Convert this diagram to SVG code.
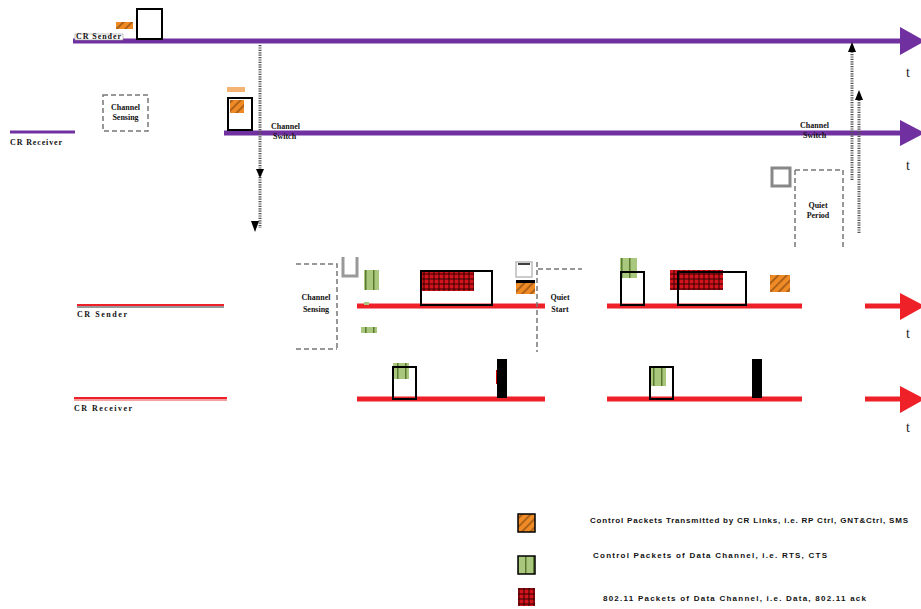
<svg xmlns="http://www.w3.org/2000/svg" width="921" height="609" viewBox="0 0 921 609">
<style>
.lbl{font-family:"Liberation Serif",serif;font-size:8px;fill:#111;font-weight:bold}
.t{font-family:"Liberation Serif",serif;font-size:14px;fill:#222}
.leg{font-family:"Liberation Sans",sans-serif;font-size:8px;fill:#111;font-weight:bold}
.pl{stroke:#7030a0;stroke-width:5;fill:none}
.rl{stroke:#ee2028;stroke-width:5;fill:none}
.box{fill:none;stroke:#000;stroke-width:2}
.dash{fill:none;stroke:#777;stroke-width:1.5;stroke-dasharray:5,3}
.dot{fill:none;stroke:#555;stroke-width:3;stroke-dasharray:1.2,1.2}
.or{fill:url(#hatch)}
.gr{fill:url(#grn)}
.rd{fill:url(#chk)}
</style>
<defs>
<pattern id="hatch" patternUnits="userSpaceOnUse" width="6" height="6" patternTransform="rotate(-45)">
<rect width="6" height="6" fill="#f08a24"/>
<line x1="0" y1="1" x2="6" y2="1" stroke="#6a3a10" stroke-width="1"/>
</pattern>
<pattern id="grn" patternUnits="userSpaceOnUse" width="8" height="8">
<rect width="8" height="8" fill="#a9c77d"/>
<rect x="5" width="1.5" height="8" fill="#5a7a30"/>
</pattern>
<pattern id="chk" patternUnits="userSpaceOnUse" width="5" height="5">
<rect width="5" height="5" fill="#d4141c"/>
<rect x="3.5" width="1" height="5" fill="#300"/>
<rect y="3.5" width="5" height="1" fill="#300"/>
</pattern>
</defs>

<g id="connectors">
<line class="pl" x1="73" y1="41" x2="902" y2="41"/>
<polygon points="900,27 925,41 900,55" fill="#7030a0"/>
<line stroke="#7030a0" stroke-width="3" x1="10" y1="132" x2="75" y2="132"/>
<line class="pl" x1="224" y1="133" x2="902" y2="133"/>
<polygon points="900,120 925,133 900,146" fill="#7030a0"/>
<line stroke="#999" stroke-width="2" x1="77" y1="307" x2="224" y2="307"/>
<line stroke="#ee2028" stroke-width="2" x1="77" y1="305" x2="224" y2="305"/>
<line class="rl" x1="357" y1="306" x2="545" y2="306"/>
<line class="rl" x1="607" y1="306" x2="802" y2="306"/>
<line class="rl" x1="865" y1="306" x2="902" y2="306"/>
<polygon points="900,293 925,306 900,320" fill="#ee2028"/>
<line stroke="#f5a0a0" stroke-width="2" x1="74" y1="400" x2="227" y2="400"/>
<line stroke="#ee2028" stroke-width="2" x1="74" y1="398" x2="227" y2="398"/>
<line class="rl" x1="357" y1="399" x2="545" y2="399"/>
<line class="rl" x1="607" y1="399" x2="802" y2="399"/>
<line class="rl" x1="865" y1="399" x2="902" y2="399"/>
<polygon points="900,386 925,399 900,413" fill="#ee2028"/>
<line class="dot" x1="260" y1="45" x2="260" y2="228"/>
<polygon points="256,169 264,169 260,178" fill="#000"/>
<polygon points="251,221 259,221 255,232" fill="#000"/>
<line class="dot" x1="852" y1="180" x2="852" y2="50"/>
<polygon points="848,52 856,52 852,42" fill="#000"/>
<line class="dot" x1="859" y1="233" x2="859" y2="98"/>
<polygon points="855,100 863,100 859,90" fill="#000"/>
<line class="dash" x1="537" y1="262" x2="537" y2="352" stroke="#666" stroke-width="2"/>
<line class="dash" x1="538" y1="269" x2="582" y2="269" stroke="#bbb"/>
</g>

<g id="t-labels">
<text class="t" x="906" y="77">t</text>
<text class="t" x="906" y="170">t</text>
<text class="t" x="906" y="338">t</text>
<text class="t" x="906" y="432">t</text>
</g>

<g id="cr-sender-top">
<rect x="75" y="34" width="48" height="6" fill="#fff" stroke="#999" stroke-width="0.6"/>
<text class="lbl" x="76" y="39" font-size="6" textLength="45">CR Sender</text>
<rect x="116" y="22" width="17" height="7" class="or"/>
<rect x="137" y="9" width="25" height="30" class="box"/>
</g>

<g id="cr-receiver-top">
<text class="lbl" x="10" y="145" font-size="9" textLength="52">CR Receiver</text>
</g>

<g id="channel-sensing-1">
<rect x="103" y="95" width="45" height="36" class="dash" stroke="#333"/>
<text class="lbl" x="125.5" y="110" text-anchor="middle">Channel</text>
<text class="lbl" x="125.5" y="120" text-anchor="middle">Sensing</text>
</g>

<g id="switch-box">
<rect x="227" y="87" width="18" height="5" fill="#f2a050" opacity="0.8"/>
<rect x="228" y="98" width="24" height="32" class="box"/>
<rect x="230" y="100" width="14" height="13" class="or"/>
</g>

<g id="channel-switch-1">
<text class="lbl" x="271" y="129" fill="#444">Channel</text>
<text class="lbl" x="273" y="139" fill="#444">Switch</text>
</g>

<g id="channel-switch-2">
<text class="lbl" x="800" y="128">Channel</text>
<text class="lbl" x="803" y="138">Switch</text>
</g>

<g id="quiet-period">
<rect x="772" y="168" width="18" height="18" fill="none" stroke="#888" stroke-width="3"/>
<path d="M795,170 H843 V248 M795,170 V248" class="dash" stroke="#888"/>
<text class="lbl" x="818" y="208" text-anchor="middle">Quiet</text>
<text class="lbl" x="818" y="218" text-anchor="middle">Period</text>
</g>

<g id="cr-sender-bottom">
<text class="lbl" x="77" y="317" font-size="9" textLength="50">CR Sender</text>
</g>
<g id="cr-receiver-bottom">
<text class="lbl" x="74" y="411" font-size="9" textLength="58">CR Receiver</text>
</g>

<g id="channel-sensing-2">
<path d="M296,264 H337 V350 M296,349 H337" class="dash" stroke="#777"/>
<text class="lbl" x="316" y="300" text-anchor="middle" fill="#444">Channel</text>
<text class="lbl" x="316" y="312" text-anchor="middle" fill="#444">Sensing</text>
<path d="M343,257 V276 H357 V257" fill="none" stroke="#999" stroke-width="3"/>
</g>

<g id="sender-seg1">
<rect x="364" y="270" width="15" height="20" class="gr"/>
<rect x="364" y="302" width="5" height="3" fill="#a9c77d"/>
<rect x="361" y="327" width="16" height="6" class="gr"/>
<rect x="421" y="270" width="53" height="21" class="rd"/>
<rect x="421" y="271" width="71" height="34" class="box" stroke-width="1.8"/>
</g>

<g id="quiet-start">
<rect x="516" y="262" width="16" height="15" fill="#fff" stroke="#bbb" stroke-width="1.5"/>
<line x1="518" y1="264" x2="530" y2="264" stroke="#000" stroke-width="1.5"/>
<rect x="516" y="280" width="19" height="14" class="or"/>
<rect x="516" y="280" width="19" height="3" fill="#000"/>
<text class="lbl" x="560" y="300" text-anchor="middle">Quiet</text>
<text class="lbl" x="560" y="312" text-anchor="middle">Start</text>
</g>

<g id="sender-seg2">
<rect x="620" y="258" width="17" height="20" class="gr"/>
<rect x="621" y="272" width="23" height="33" class="box" stroke-width="1.8"/>
<rect x="670" y="270" width="53" height="20" class="rd"/>
<rect x="678" y="272" width="68" height="33" class="box" stroke-width="1.8"/>
<rect x="770" y="275" width="20" height="17" class="or"/>
</g>

<g id="receiver-seg1">
<rect x="393" y="363" width="16" height="16" class="gr"/>
<rect x="393" y="367" width="23" height="32" class="box" stroke-width="1.8"/>
<rect x="496" y="370" width="2" height="14" fill="#c00"/>
<rect x="497" y="359" width="10" height="39" fill="#000"/>
</g>

<g id="receiver-seg2">
<rect x="651" y="368" width="15" height="18" class="gr"/>
<rect x="650" y="367" width="23" height="32" class="box" stroke-width="1.8"/>
<rect x="752" y="359" width="10" height="39" fill="#000"/>
</g>

<g id="legend">
<rect x="518" y="514" width="17" height="18" class="or" stroke="#000" stroke-width="1.5"/>
<text class="leg" x="590" y="523" textLength="318">Control Packets Transmitted by CR Links, i.e. RP Ctrl, GNT&amp;Ctrl, SMS</text>
<rect x="518" y="556" width="17" height="18" class="gr" stroke="#000" stroke-width="1.5"/>
<text class="leg" x="593" y="558" textLength="234">Control Packets of Data Channel, i.e. RTS, CTS</text>
<rect x="518" y="588" width="17" height="18" class="rd"/>
<text class="leg" x="603" y="601" textLength="263">802.11 Packets of Data Channel, i.e. Data, 802.11 ack</text>
</g>
</svg>
